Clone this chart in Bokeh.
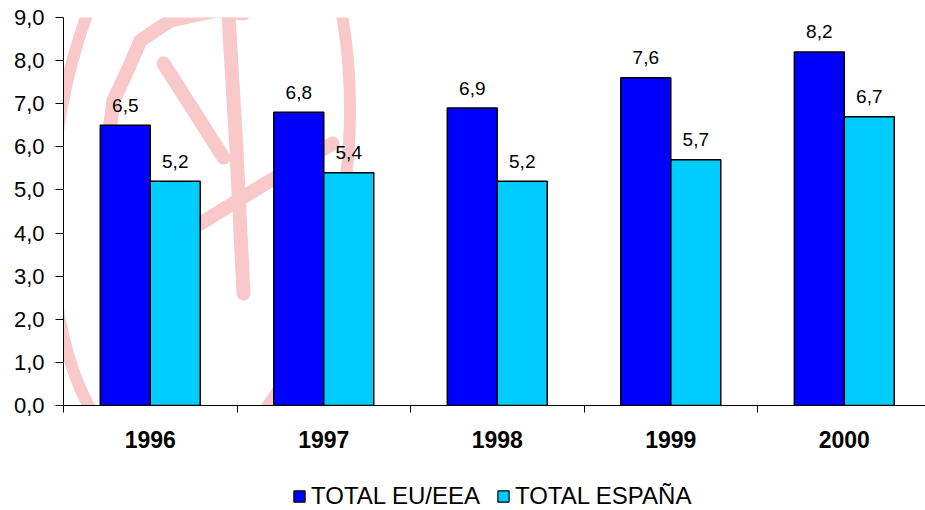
from bokeh.plotting import figure
from bokeh.layouts import column
from bokeh.models import Range1d, FixedTicker, ColumnDataSource, Legend, LegendItem
from bokeh.core.properties import value
from bokeh.embed import file_html
from bokeh.resources import INLINE

# ---- data ----
years = ["1996", "1997", "1998", "1999", "2000"]
eu_eea = [6.5, 6.8, 6.9, 7.6, 8.2]
espana = [5.2, 5.4, 5.2, 5.7, 6.7]
y_ticks = [0, 1, 2, 3, 4, 5, 6, 7, 8, 9]
y_tick_labels = ["0,0", "1,0", "2,0", "3,0", "4,0", "5,0", "6,0", "7,0", "8,0", "9,0"]
series_names = ["TOTAL EU/EEA", "TOTAL ESPAÑA"]
series_colors = ["#0000FF", "#00CCFF"]

FONT = "Liberation Sans"
BAR_W = 0.288
OFF = 0.144

pos = list(range(1, len(years) + 1))

p = figure(width=925, height=465, output_backend="svg", toolbar_location=None,
           x_range=Range1d(0.5, 0.5 + 4.968), y_range=Range1d(0, 9),
           min_border_left=63, min_border_right=0, min_border_top=17, min_border_bottom=60)
p.outline_line_color = None
p.xgrid.visible = False
p.ygrid.visible = False
p.background_fill_color = "white"
p.border_fill_color = "white"

# ---- decorative watermark (faint stamp behind the chart) ----
def sx(px):
    return (px - 63) / 173.5 + 0.5

def sy(py):
    return (405 - py) / 43.11

wm_color = "#F9C8C8"
p.ellipse(x=sx(200), y=sy(165), width=292, height=610, angle=-0.12,
          width_units="screen", height_units="screen",
          fill_color=None, line_color=wm_color, line_width=12)
wm_lines_x = [[sx(v) for v in (228, 236, 243)],
              [sx(v) for v in (163, 193, 223)],
              [sx(v) for v in (200, 265, 332)],
              [sx(v) for v in (110, 113, 127, 140, 170, 217, 243)]]
wm_lines_y = [[sy(v) for v in (15, 150, 293)],
              [sy(v) for v in (63, 110, 157)],
              [sy(v) for v in (223, 183, 143)],
              [sy(v) for v in (123, 100, 70, 40, 20, 10, 13)]]
p.multi_line(xs=wm_lines_x, ys=wm_lines_y, line_color=wm_color, line_width=14,
             line_cap="round", line_join="round")

# ---- bars ----
src = ColumnDataSource(dict(
    x_eu=[v - OFF for v in pos], x_es=[v + OFF for v in pos],
    eu=eu_eea, es=espana,
    eu_lbl=[f"{v:.1f}".replace(".", ",") for v in eu_eea],
    es_lbl=[f"{v:.1f}".replace(".", ",") for v in espana],
))
r_eu = p.vbar(x="x_eu", top="eu", bottom=0, width=BAR_W, source=src,
              fill_color=series_colors[0], line_color="black", line_width=1.5)
r_es = p.vbar(x="x_es", top="es", bottom=0, width=BAR_W, source=src,
              fill_color=series_colors[1], line_color="black", line_width=1.5)

for xcol, ycol, lcol in (("x_eu", "eu", "eu_lbl"), ("x_es", "es", "es_lbl")):
    p.text(x=xcol, y=ycol, text=lcol, source=src, text_align="center",
           text_baseline="alphabetic", y_offset=-20, text_font=value(FONT),
           text_font_size="19px", text_color="black")

# ---- axes ----
yax = p.yaxis[0]
yax.ticker = FixedTicker(ticks=y_ticks)
yax.major_label_overrides = {t: l for t, l in zip(y_ticks, y_tick_labels)}
yax.major_tick_out = 8
yax.major_tick_in = 0
yax.minor_tick_out = 0
yax.minor_tick_in = 0
yax.major_label_standoff = 11
yax.major_label_text_font = FONT
yax.major_label_text_font_size = "22px"
yax.major_label_text_color = "black"
yax.axis_line_color = "black"
yax.major_tick_line_color = "black"

xax = p.xaxis[0]
xax.ticker = FixedTicker(ticks=pos, minor_ticks=[v - 0.5 for v in pos] + [pos[-1] + 0.5])
xax.major_label_overrides = {t: l for t, l in zip(pos, years)}
xax.major_tick_out = 0
xax.major_tick_in = 0
xax.minor_tick_out = 7
xax.minor_tick_in = 0
xax.minor_tick_line_color = "black"
xax.major_label_standoff = 18
xax.major_label_text_font = FONT
xax.major_label_text_font_style = "bold"
xax.major_label_text_font_size = "23px"
xax.major_label_text_color = "black"
xax.axis_line_color = "black"

# ---- legend (own strip below the chart) ----
pl = figure(width=925, height=45, output_backend="svg", toolbar_location=None,
            x_axis_location=None, y_axis_location=None,
            x_range=Range1d(0, 1), y_range=Range1d(0, 1),
            min_border_left=0, min_border_right=0, min_border_top=0, min_border_bottom=0)
pl.outline_line_color = None
pl.xgrid.visible = False
pl.ygrid.visible = False
# zero-size swatch renderers (only their styles are used by the legend)
swatch = ColumnDataSource(dict(x=[0.5], top=[0.0]))
lg_eu = pl.vbar(x="x", top="top", bottom=0, width=0, source=swatch,
                fill_color=series_colors[0], line_color="black", line_width=1.2)
lg_es = pl.vbar(x="x", top="top", bottom=0, width=0, source=swatch,
                fill_color=series_colors[1], line_color="black", line_width=1.2)
legend = Legend(items=[LegendItem(label=series_names[0], renderers=[lg_eu]),
                       LegendItem(label=series_names[1], renderers=[lg_es])],
                orientation="horizontal", location=(229, 0),
                glyph_width=14, glyph_height=14, label_standoff=5, spacing=16,
                padding=0, margin=0, border_line_color=None,
                background_fill_alpha=0,
                label_text_font=FONT, label_text_font_size="24px",
                label_text_color="black")
pl.add_layout(legend, "center")

layout = column(p, pl, spacing=0)
open("out.html", "w").write(file_html(layout, INLINE))
